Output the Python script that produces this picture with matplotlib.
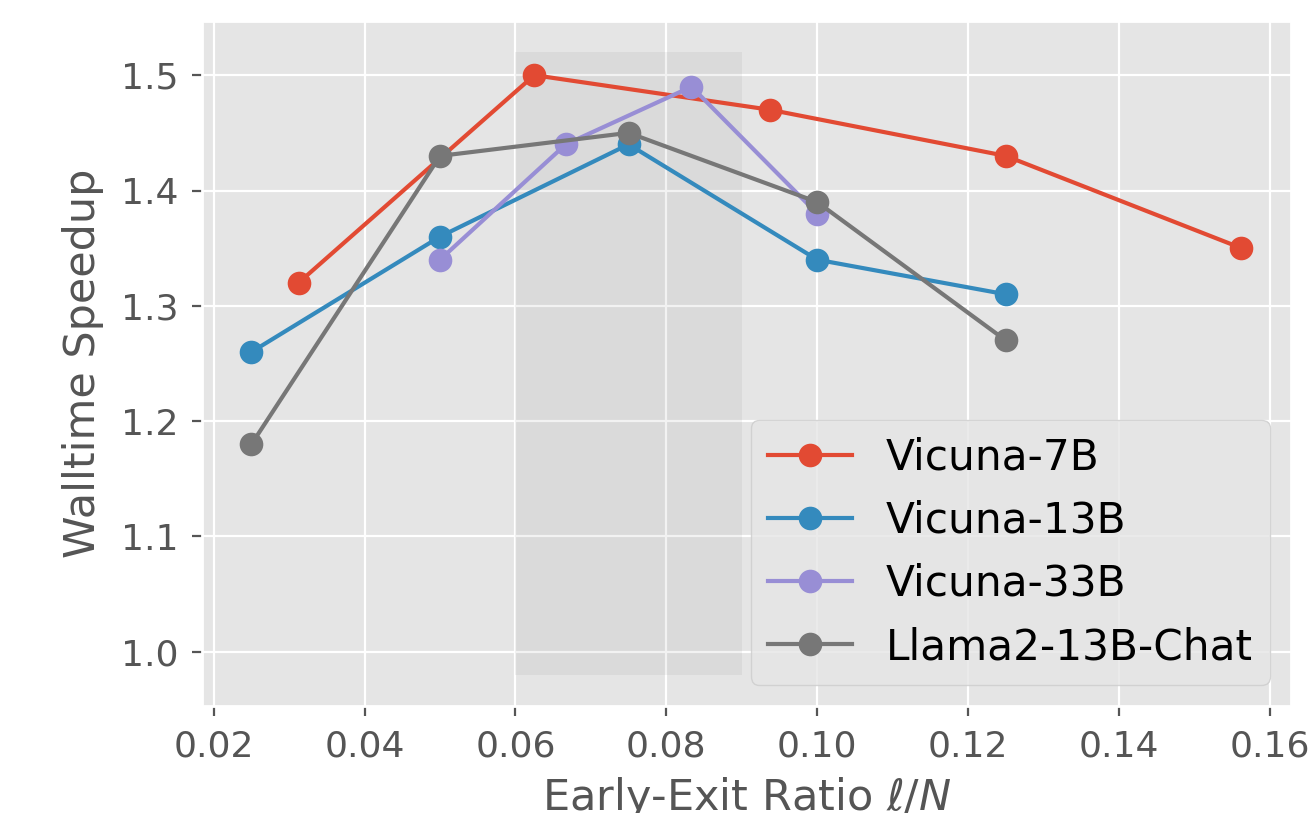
import matplotlib
matplotlib.use("Agg")
import matplotlib.pyplot as plt

plt.style.use("ggplot")

# Data
x_7b = [1/32, 2/32, 3/32, 4/32, 5/32]
y_7b = [1.32, 1.50, 1.47, 1.43, 1.35]

x_13b = [0.025, 0.05, 0.075, 0.10, 0.125]
y_13b = [1.26, 1.36, 1.44, 1.34, 1.31]

x_33b = [3/60, 4/60, 5/60, 6/60]
y_33b = [1.34, 1.44, 1.49, 1.38]

x_llama = [0.025, 0.05, 0.075, 0.10, 0.125]
y_llama = [1.18, 1.43, 1.45, 1.39, 1.27]

shade_x = [0.06, 0.09]
shade_y = [0.98, 1.52]

labels = ["Vicuna-7B", "Vicuna-13B", "Vicuna-33B", "Llama2-13B-Chat"]

fig = plt.figure(figsize=(6.54, 4.065), dpi=200)
ax = fig.add_axes([0.1544, 0.1316, 0.9870 - 0.1544, 0.9742 - 0.1316])

ax.fill_between(shade_x, shade_y[0], shade_y[1], color="gray", alpha=0.1, linewidth=0)

for xs, ys, lab in [(x_7b, y_7b, labels[0]), (x_13b, y_13b, labels[1]),
                    (x_33b, y_33b, labels[2]), (x_llama, y_llama, labels[3])]:
    ax.plot(xs, ys, marker="o", markersize=7.5, linewidth=1.5, label=lab)

ax.set_xlabel(r"Early-Exit Ratio $\ell/N$", fontsize=15.5, labelpad=4)
ax.set_ylabel("Walltime Speedup", fontsize=15.5, labelpad=6)
ax.tick_params(axis="both", labelsize=13, pad=5)
ax.set_xticks([0.02, 0.04, 0.06, 0.08, 0.10, 0.12, 0.14, 0.16])
ax.set_yticks([1.0, 1.1, 1.2, 1.3, 1.4, 1.5])

ax.legend(loc="lower right", fontsize=15.2)

fig.savefig("out.png", dpi=200)
